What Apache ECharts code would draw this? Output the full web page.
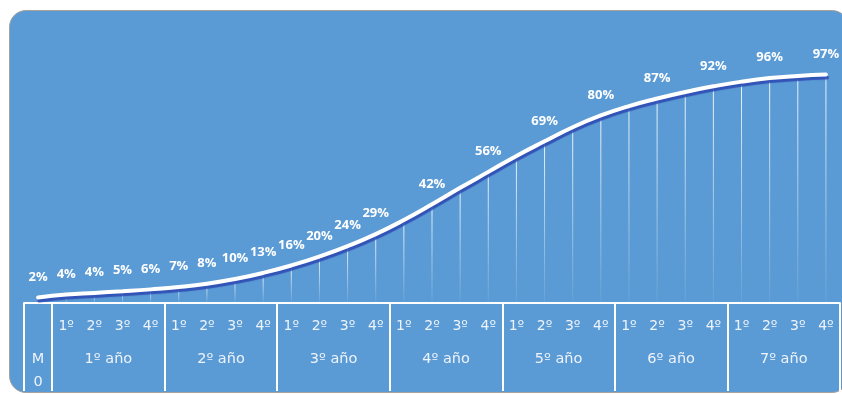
<!DOCTYPE html>
<html><head><meta charset="utf-8">
<script src="https://cdn.jsdelivr.net/npm/echarts@6/dist/echarts.min.js"></script>
<style>
html,body{margin:0;padding:0;background:#fff;}
#bg{position:absolute;left:9px;top:10px;width:840px;height:383px;background:#5B9BD5;border:1px solid #A9A29C;border-radius:17px;box-sizing:border-box;}
#chart{position:absolute;left:0;top:0;width:842px;height:394px;}
</style></head><body>
<div id="bg"></div><div id="chart"></div>
<script>
const startLabel = 'M\n0';
const yearLabels = ['1º año','2º año','3º año','4º año','5º año','6º año','7º año'];
const quarterLabels = ['1º','2º','3º','4º'];
const values = [2.3,3.6,4.3,5.0,5.8,6.8,8.2,10.2,12.8,16.0,19.8,24.2,29.3,35.3,42.0,49.0,55.8,62.6,68.8,74.8,79.8,83.8,87.0,89.8,92.2,94.2,95.7,96.6,97.2];
const labelledPoints = [0,1,2,3,4,5,6,7,8,9,10,11,12,14,16,18,20,22,24,26,28];

const categories = [''];
yearLabels.forEach(() => quarterLabels.forEach(q => categories.push(q)));
const groupBounds = [0, 1];
const groupCenters = [0.5];
const groupNames = [startLabel];
let pos = 1;
yearLabels.forEach(y => {
  groupCenters.push(pos + quarterLabels.length / 2);
  groupNames.push(y);
  pos += quarterLabels.length;
  groupBounds.push(pos);
});
const total = categories.length;

const chart = echarts.init(document.getElementById('chart'));
const axisTextColor = '#EEF3FA';
chart.setOption({
  animation: false,
  backgroundColor: 'transparent',
  grid: { left: 24, right: 2, top: 68, bottom: 91 },
  xAxis: [
    {
      type: 'category', data: categories, boundaryGap: true, position: 'bottom',
      axisLine: { show: true, lineStyle: { color: '#fff', width: 2 } },
      axisTick: { show: false },
      splitLine: { show: false },
      axisLabel: { interval: 0, color: axisTextColor, fontFamily: 'DejaVu Sans', fontSize: 14, margin: 16 }
    },
    {
      type: 'value', min: 0, max: total, position: 'bottom',
      axisLine: { show: false }, splitLine: { show: false },
      axisTick: { show: true, customValues: groupBounds, length: 88, lineStyle: { color: '#fff', width: 2 } },
      axisLabel: {
        show: true, customValues: groupCenters,
        formatter: v => groupNames[groupCenters.indexOf(v)],
        color: axisTextColor, fontFamily: 'DejaVu Sans', fontSize: 14.5, lineHeight: 23,
        margin: 45, verticalAlign: 'top'
      }
    }
  ],
  yAxis: { type: 'value', min: 0, max: 100, show: false },
  series: [
    {
      type: 'bar', data: values, barWidth: 1, silent: true, z: 1,
      itemStyle: {
        color: new echarts.graphic.LinearGradient(0, 0, 0, 1, [
          { offset: 0, color: 'rgba(255,255,255,0.9)' },
          { offset: 1, color: 'rgba(255,255,255,0.06)' }
        ])
      }
    },
    {
      type: 'line', z: 3, smooth: 0.5,
      data: values.map((v, i) => ({ value: v, label: { show: labelledPoints.includes(i) } })),
      symbol: 'circle', symbolSize: 2, itemStyle: { color: '#fff' },
      lineStyle: { color: '#fff', width: 4, cap: 'round', shadowColor: 'rgba(45,75,180,0.9)', shadowOffsetY: 3, shadowOffsetX: 1, shadowBlur: 1 },
      label: { position: 'top', distance: 13, formatter: p => Math.round(p.value) + '%', color: '#fff', fontWeight: 'bold', fontFamily: 'Open Sans', fontSize: 13 }
    }
  ]
});
</script>
</body></html>
